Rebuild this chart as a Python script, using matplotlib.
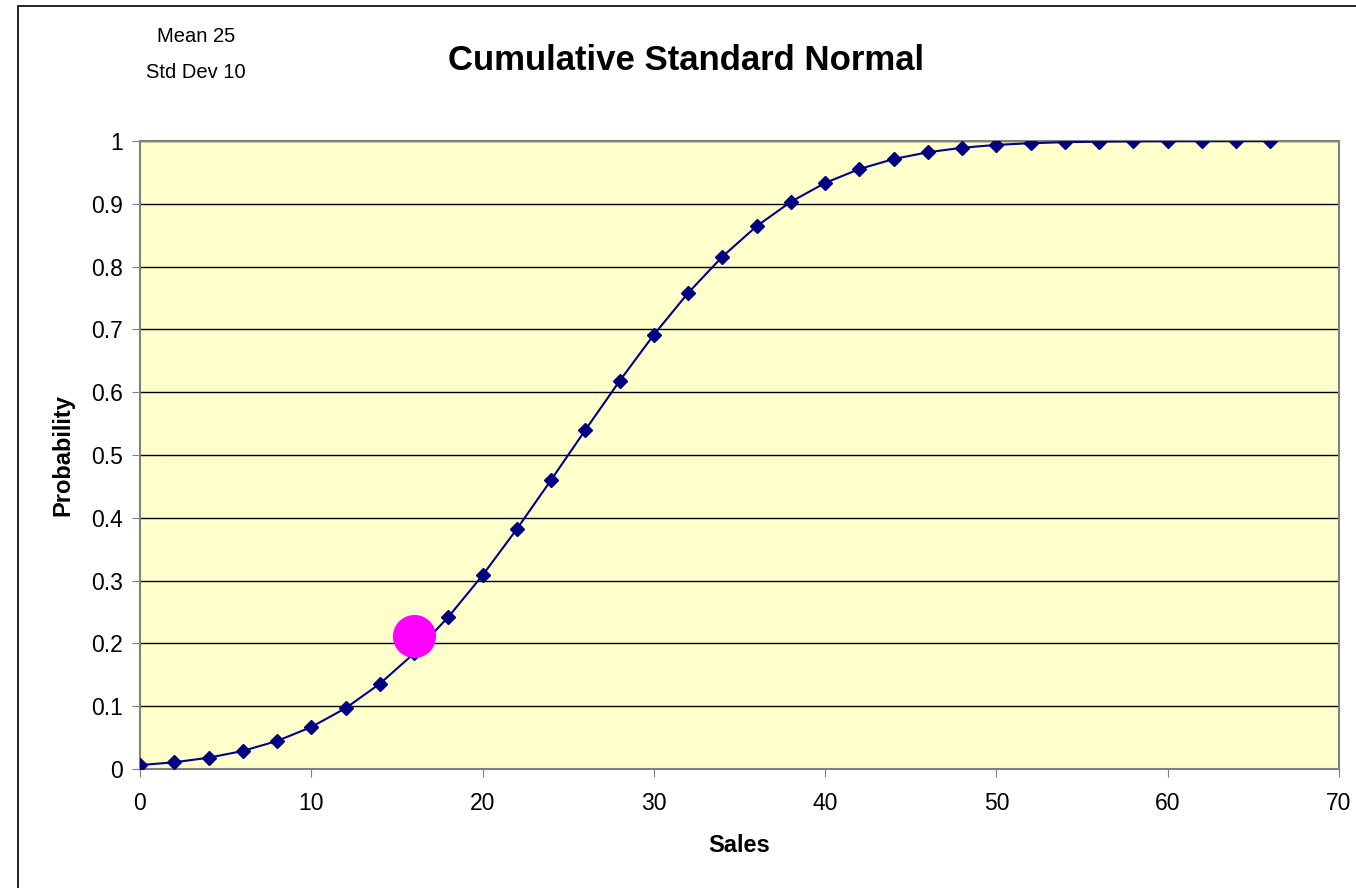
import matplotlib
matplotlib.use("Agg")
import matplotlib.pyplot as plt
from matplotlib.patches import Rectangle

plt.rcParams['font.family'] = ['Liberation Sans', 'DejaVu Sans']

# values
sales = [0, 2, 4, 6, 8, 10, 12, 14, 16, 18, 20, 22, 24, 26, 28, 30, 32, 34,
         36, 38, 40, 42, 44, 46, 48, 50, 52, 54, 56, 58, 60, 62, 64, 66]
prob = [0.0062, 0.0107, 0.0179, 0.0287, 0.0446, 0.0668, 0.0968, 0.1357,
        0.1841, 0.2420, 0.3085, 0.3821, 0.4602, 0.5398, 0.6179, 0.6915,
        0.7580, 0.8159, 0.8643, 0.9032, 0.9332, 0.9554, 0.9713, 0.9821,
        0.9893, 0.9938, 0.9965, 0.9981, 0.9990, 0.9995, 0.9998, 0.9999,
        1.0000, 1.0000]
point_x = [16]
point_y = [0.212]
y_ticks = [0, 0.1, 0.2, 0.3, 0.4, 0.5, 0.6, 0.7, 0.8, 0.9, 1]
y_labels = ["0", "0.1", "0.2", "0.3", "0.4", "0.5", "0.6", "0.7", "0.8", "0.9", "1"]
x_ticks = [0, 10, 20, 30, 40, 50, 60, 70]

fig = plt.figure(figsize=(13.56, 8.88), dpi=100)
ax = fig.add_axes([140 / 1356, 1 - 769 / 888, 1199 / 1356, 628 / 888])
ax.set_facecolor("#FFFFCC")

# outer chart frame (left and top edges visible)
fig.patches.append(Rectangle((18 / 1356, -0.1), 1.2, 1 - 6 / 888 + 0.1,
                             transform=fig.transFigure, fill=False,
                             edgecolor="black", linewidth=1.2))

for yv in y_ticks[1:]:
    ax.axhline(yv, color="black", linewidth=1.0, zorder=1)

ax.plot(sales, prob, color="#000080", linewidth=1.5, marker="D",
        markersize=7, zorder=3)
ax.scatter(point_x, point_y, s=900, color="#FF00FF", zorder=4)

ax.set_xlim(0, 70)
ax.set_ylim(0, 1)
ax.set_xticks(x_ticks)
ax.set_yticks(y_ticks)
ax.set_yticklabels(y_labels)
ax.tick_params(direction="out", length=5.5, color="#808080", labelsize=16.5)
ax.tick_params(axis="x", pad=11)
ax.tick_params(axis="y", pad=7)
for s in ax.spines.values():
    s.set_color("#808080")
    s.set_linewidth(1.5)

ax.set_xlabel("Sales", fontsize=17, fontweight="bold", labelpad=14)
ax.set_ylabel("Probability", fontsize=17, fontweight="bold", labelpad=12)

fig.text(686 / 1356, 1 - 60 / 888, "Cumulative Standard Normal",
         fontsize=25, fontweight="bold", ha="center", va="center")
fig.text(196 / 1356, 1 - 36 / 888, "Mean 25", fontsize=14.5, ha="center", va="center")
fig.text(196 / 1356, 1 - 73 / 888, "Std Dev 10", fontsize=14.5, ha="center", va="center")

fig.savefig("out.png", dpi=100)
